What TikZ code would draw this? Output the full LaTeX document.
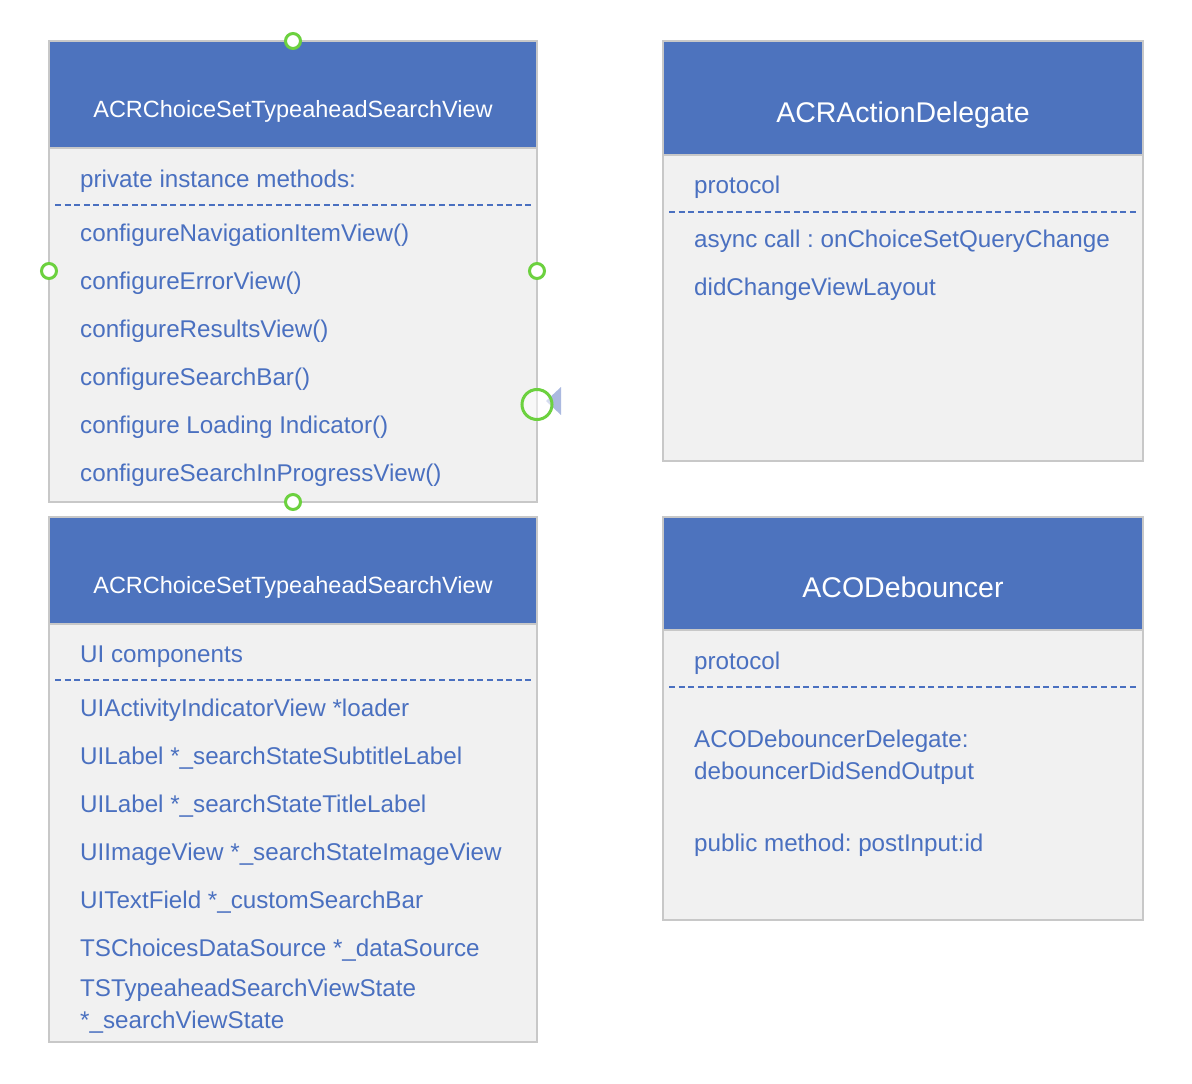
\documentclass[tikz,border=0pt]{standalone}
\usepackage{fontspec}
\setmainfont{Liberation Sans}
\frenchspacing
\definecolor{hdrblue}{HTML}{4D73BE}
\definecolor{txtblue}{HTML}{4A70C0}
\definecolor{bodygray}{HTML}{F1F1F1}
\definecolor{bordergray}{HTML}{C8C8C8}
\definecolor{pgreen}{HTML}{6CD13F}
\definecolor{triblue}{HTML}{ABB9E0}
\tikzset{
  hdrbox/.style={draw=bordergray, line width=2pt, fill=hdrblue, inner sep=0pt, minimum width=#1},
  bodybox/.style={draw=bordergray, line width=2pt, fill=bodygray, inner sep=0pt, minimum width=#1},
  ttl/.style={text=white, inner sep=0pt, anchor=base, font=\fontsize{23.5}{28}\selectfont},
  bigttl/.style={text=white, inner sep=0pt, anchor=base, font=\fontsize{28.5}{34}\selectfont},
  item/.style={text=txtblue, inner sep=0pt, anchor=base west, font=\fontsize{24.2}{29}\selectfont},
  sep/.style={draw=txtblue, line width=2pt, dash pattern=on 6pt off 3.6pt},
  port/.style={circle, draw=pgreen, line width=3pt, fill=white, inner sep=0pt, minimum size=15pt},
  bigport/.style={circle, draw=pgreen, line width=3pt, fill=white, fill opacity=0.5, inner sep=0pt, minimum size=30pt},
}
\begin{document}
\begin{tikzpicture}[x=1pt, y=-1pt]
\useasboundingbox (0,0) rectangle (1192,1084);
% ---------- Box A ----------
\node[bodybox=488pt, minimum height=354pt] (bA) at (293,325) {};
\node[hdrbox=488pt, minimum height=107pt] (hA) at (293,94.5) {};
\node[ttl] (tA) at (293,117) {ACRChoiceSetTypeaheadSearchView};
\node[item] (a0) at (80,187) {private instance methods:};
\coordinate (sA1) at (55,205); \coordinate (sA2) at (531,205);
\draw[sep] (sA1) -- (sA2);
\node[item] (a1) at (80,241) {configureNavigationItemView()};
\node[item] (a2) at (80,289) {configureErrorView()};
\node[item] (a3) at (80,337) {configureResultsView()};
\node[item] (a4) at (80,385) {configureSearchBar()};
\node[item] (a5) at (80,433) {configure Loading Indicator()};
\node[item] (a6) at (80,481) {configureSearchInProgressView()};
% ---------- Box B ----------
\node[bodybox=488pt, minimum height=418pt] (bB) at (293,833) {};
\node[hdrbox=488pt, minimum height=107pt] (hB) at (293,570.5) {};
\node[ttl] (tB) at (293,593) {ACRChoiceSetTypeaheadSearchView};
\node[item] (b0) at (80,662) {UI components};
\coordinate (sB1) at (55,680); \coordinate (sB2) at (531,680);
\draw[sep] (sB1) -- (sB2);
\node[item] (b1) at (80,716) {UIActivityIndicatorView *loader};
\node[item] (b2) at (80,764) {UILabel *\_searchStateSubtitleLabel};
\node[item] (b3) at (80,812) {UILabel *\_searchStateTitleLabel};
\node[item] (b4) at (80,860) {UIImageView *\_searchStateImageView};
\node[item] (b5) at (80,908) {UITextField *\_customSearchBar};
\node[item] (b6) at (80,956) {TSChoicesDataSource *\_dataSource};
\node[item] (b7) at (80,996) {TSTypeaheadSearchViewState};
\node[item] (b8) at (80,1028) {*\_searchViewState};
% ---------- Box C ----------
\node[bodybox=480pt, minimum height=306pt] (bC) at (903,308) {};
\node[hdrbox=480pt, minimum height=114pt] (hC) at (903,98) {};
\node[bigttl] (tC) at (903,122) {ACRActionDelegate};
\node[item] (c0) at (694,193) {protocol};
\coordinate (sC1) at (669,212); \coordinate (sC2) at (1137,212);
\draw[sep] (sC1) -- (sC2);
\node[item] (c1) at (694,247) {async call : onChoiceSetQueryChange};
\node[item] (c2) at (694,295) {didChangeViewLayout};
% ---------- Box D ----------
\node[bodybox=480pt, minimum height=290pt] (bD) at (903,775) {};
\node[hdrbox=480pt, minimum height=113pt] (hD) at (903,573.5) {};
\node[bigttl] (tD) at (903,597) {ACODebouncer};
\node[item] (d0) at (694,669) {protocol};
\coordinate (sD1) at (669,687); \coordinate (sD2) at (1137,687);
\draw[sep] (sD1) -- (sD2);
\node[item] (d1) at (694,747) {ACODebouncerDelegate:};
\node[item] (d2) at (694,779) {debouncerDidSendOutput};
\node[item] (d3) at (694,851) {public method: postInput:id};
% ---------- ports ----------
\node[port] (pTop) at (293,41) {};
\node[port] (pLeft) at (49,271) {};
\node[port] (pRight) at (537,271) {};
\node[port] (pBot) at (293,502) {};
\coordinate (triTip) at (546,401);
\coordinate (triA) at (561,387);
\coordinate (triB) at (561,415);
\fill[triblue] (triTip) -- (triA) -- (triB) -- cycle;
\node[bigport] (pBig) at (537,404.5) {};
\end{tikzpicture}
\end{document}
